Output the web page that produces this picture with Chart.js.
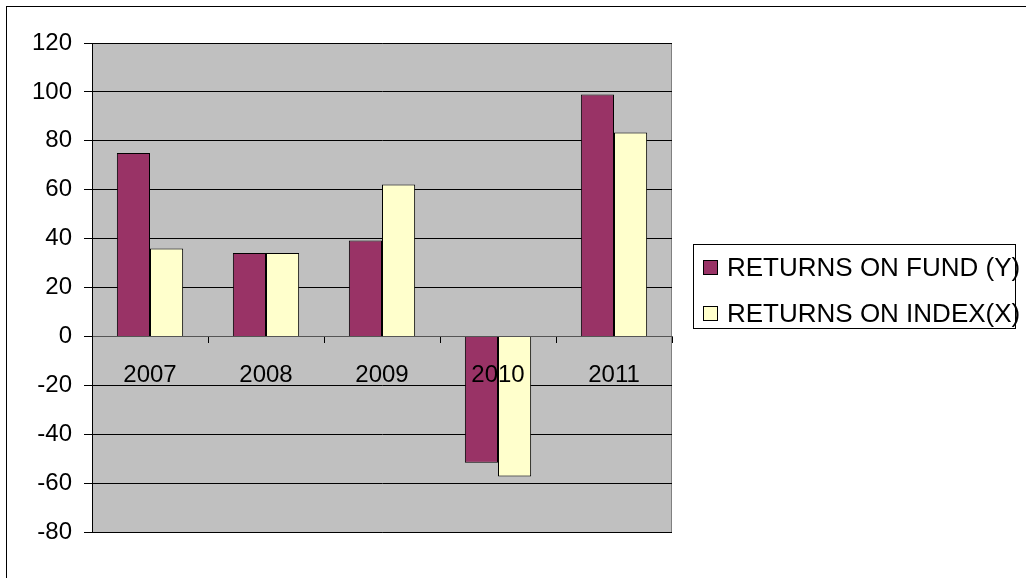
<!DOCTYPE html>
<html>
<head>
<meta charset="utf-8">
<script src="https://cdn.jsdelivr.net/npm/chart.js@4"></script>
<style>
  html, body { margin: 0; padding: 0; background: #fff; }
  #wrap { width: 1026px; height: 578px; }
</style>
</head>
<body>
<div id="wrap"><canvas id="bar-chart" width="1026" height="578"></canvas></div>
<script>
const years = ['2007', '2008', '2009', '2010', '2011']
const fundReturns = [75.0, 34.1, 39.2, -51.7, 98.9]
const indexReturns = [35.9, 34.1, 62.1, -57.3, 83.4]
const yTicks = [-80, -60, -40, -20, 0, 20, 40, 60, 80, 100, 120]

const FONT = '"Liberation Sans", Arial, sans-serif'

// grey plot area and the outer chart frame, Excel style
const frame = {
    id: 'frame',
    beforeDraw(chart) {
        const ctx = chart.ctx
        const a = chart.chartArea
        ctx.save()
        ctx.fillStyle = '#fff'
        ctx.fillRect(0, 0, chart.width, chart.height)
        ctx.strokeStyle = '#000'
        ctx.lineWidth = 1
        ctx.strokeRect(6.5, 6.5, chart.width + 20, chart.height + 20)
        ctx.fillStyle = '#C0C0C0'
        ctx.fillRect(a.left, a.top, a.right - a.left, a.bottom - a.top)
        ctx.strokeStyle = '#808080'
        ctx.strokeRect(a.left + 0.5, a.top + 0.5, a.right - a.left - 1, a.bottom - a.top)
        ctx.restore()
    }
}

// boxed legend on the right
const boxLegend = {
    id: 'boxLegend',
    afterDraw(chart) {
        const ctx = chart.ctx
        ctx.save()
        ctx.strokeStyle = '#000'
        ctx.lineWidth = 1
        ctx.strokeRect(693.5, 244.5, 322, 84)
        ctx.font = '26px ' + FONT
        ctx.textBaseline = 'middle'
        chart.data.datasets.forEach((ds, i) => {
            const y = 267.5 + i * 46
            ctx.fillStyle = ds.backgroundColor
            ctx.fillRect(703.5, y - 7, 14, 14)
            ctx.strokeStyle = '#000'
            ctx.strokeRect(703.5, y - 7, 14, 14)
            ctx.fillStyle = '#000'
            ctx.fillText(ds.label, 727, y + 1)
        })
        ctx.restore()
    }
}

const config = {
    type: 'bar',
    data: {
        labels: years,
        datasets: [{
            label: 'RETURNS ON FUND (Y)',
            data: fundReturns,
            backgroundColor: '#993366',
            borderColor: '#000',
            borderWidth: 1,
            categoryPercentage: 2 / 3.5,
            barPercentage: 1
        }, {
            label: 'RETURNS ON INDEX(X)',
            data: indexReturns,
            backgroundColor: '#FFFFCC',
            borderColor: '#000',
            borderWidth: 1,
            categoryPercentage: 2 / 3.5,
            barPercentage: 1
        }]
    },
    options: {
        responsive: false,
        animation: false,
        layout: { padding: { left: 0, top: 43, right: 354, bottom: 46 } },
        scales: {
            x: {
                position: { y: 0 },
                grid: { display: true, drawOnChartArea: false, drawTicks: true, tickLength: 6, color: '#000', offset: true },
                border: { display: true, color: '#555' },
                // z > 0 puts the year labels over the bars, like the 2010 one
                ticks: { z: 1, color: '#000', font: { family: FONT, size: 24 }, padding: 19, maxRotation: 0 }
            },
            y: {
                min: -80,
                max: 120,
                afterBuildTicks: scale => { scale.ticks = yTicks.map(v => ({ value: v })) },
                afterFit: scale => { scale.width = 92 },
                grid: { color: '#000', drawTicks: true, tickLength: 8 },
                border: { display: true, color: '#000' },
                ticks: { color: '#000', font: { family: FONT, size: 24 }, padding: 12 }
            }
        },
        plugins: {
            legend: { display: false },
            tooltip: { enabled: false }
        }
    },
    plugins: [frame, boxLegend]
}

new Chart(document.getElementById('bar-chart').getContext('2d'), config)
</script>
</body>
</html>
